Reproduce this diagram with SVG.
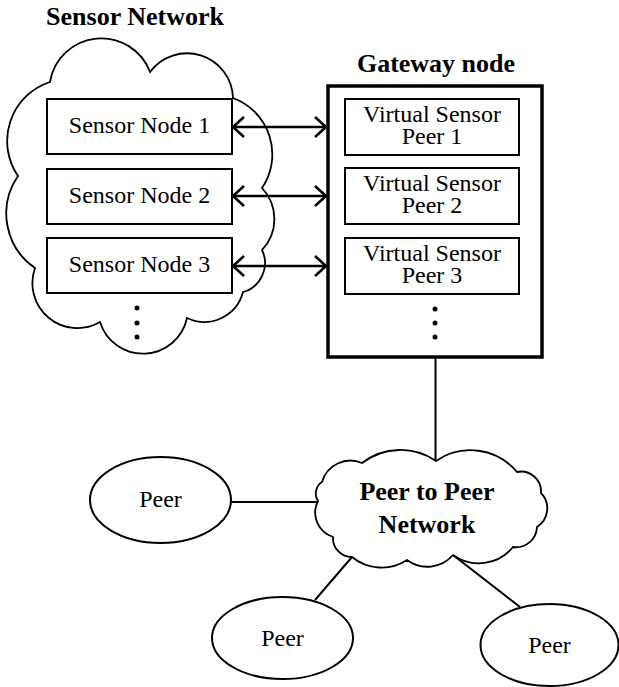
<svg xmlns="http://www.w3.org/2000/svg" width="619" height="687" viewBox="0 0 619 687">
<style>
text{font-family:'Liberation Serif','Times New Roman','DejaVu Serif',serif;fill:#000;text-anchor:middle}
.t{font-size:24px}
.b{font-size:26px;font-weight:bold}
.box{fill:#fff;stroke:#000;stroke-width:2}
.cloud{fill:#fff;stroke:#000;stroke-width:1.8}
.ell{fill:#fff;stroke:#000;stroke-width:2}
.ln{stroke:#000;stroke-width:2;fill:none}
.arr{stroke:#000;stroke-width:2.6;fill:none;marker-start:url(#ah);marker-end:url(#ah)}
</style>
<defs>
<marker id="ah" markerUnits="userSpaceOnUse" viewBox="0 0 14 22" markerWidth="14" markerHeight="22" refX="12" refY="11" orient="auto-start-reverse">
<path d="M1,1 L12,11 L1,21" fill="none" stroke="#000" stroke-width="2.6"/>
</marker>
</defs>
<g id="sensor-network">
<path class="cloud" d="M50,82 A52,52 0 0 1 150,72 A46,46 0 0 1 233,98 A60,60 0 0 1 262,188 A45,45 0 0 1 262,250 A30,30 0 0 1 243,292 A40,40 0 0 1 187,318 A45,45 0 0 1 100,322 A45,45 0 0 1 35,268 A66,66 0 0 1 18,176 A62,62 0 0 1 50,82 Z"/>
<text class="b" x="135" y="25" font-family="Liberation Serif, serif">Sensor Network</text>
<circle cx="137" cy="308" r="2.5"/>
<circle cx="137" cy="323" r="2.5"/>
<circle cx="137" cy="337" r="2.5"/>
</g>
<g id="sensor-node-1"><rect class="box" x="47" y="99" width="185" height="55"/><text class="t" x="139.5" y="133">Sensor Node 1</text></g>
<g id="sensor-node-2"><rect class="box" x="47" y="169" width="185" height="55"/><text class="t" x="139.5" y="203">Sensor Node 2</text></g>
<g id="sensor-node-3"><rect class="box" x="47" y="238" width="185" height="55"/><text class="t" x="139.5" y="272">Sensor Node 3</text></g>
<g id="gateway">
<text class="b" x="436" y="72">Gateway node</text>
<rect x="328" y="86" width="214" height="271" fill="#fff" stroke="#000" stroke-width="3.5"/>
<circle cx="435" cy="309" r="2.5"/>
<circle cx="435" cy="323" r="2.5"/>
<circle cx="435" cy="337" r="2.5"/>
</g>
<g id="vs-peer-1"><rect class="box" x="345" y="99" width="174" height="56"/><text class="t" x="432" y="122">Virtual Sensor</text><text class="t" x="432" y="144">Peer 1</text></g>
<g id="vs-peer-2"><rect class="box" x="345" y="168" width="174" height="56"/><text class="t" x="432" y="191">Virtual Sensor</text><text class="t" x="432" y="213">Peer 2</text></g>
<g id="vs-peer-3"><rect class="box" x="345" y="238" width="174" height="56"/><text class="t" x="432" y="261">Virtual Sensor</text><text class="t" x="432" y="283">Peer 3</text></g>
<g id="connectors">
<line class="arr" x1="233" y1="127" x2="326" y2="127"/>
<line class="arr" x1="233" y1="196" x2="326" y2="196"/>
<line class="arr" x1="233" y1="266" x2="326" y2="266"/>
<line class="ln" x1="435.5" y1="358" x2="435.5" y2="461"/>
<line class="ln" x1="231" y1="502" x2="318" y2="502"/>
<line class="ln" x1="352" y1="557" x2="315" y2="600"/>
<line class="ln" x1="453" y1="555" x2="520" y2="607"/>
</g>
<g id="p2p-network">
<path class="cloud" d="M436,461 A60.5,60.5 0 0 1 517,472 A20,20 0 0 1 541,493 A22,22 0 0 1 537,527 A21,21 0 0 1 513,547 A44,44 0 0 1 453,555 A34,34 0 0 1 407,560 A46.5,46.5 0 0 1 352,557 A19,19 0 0 1 333,537 A25.6,25.6 0 0 1 318,501 A13.8,13.8 0 0 1 322,482 A29.5,29.5 0 0 1 362,463 A63,63 0 0 1 436,461 Z"/>
<text class="b" x="427" y="500">Peer to Peer</text>
<text class="b" x="427" y="533">Network</text>
</g>
<g id="peer-1"><ellipse class="ell" cx="160.5" cy="500" rx="70.5" ry="43"/><text class="t" x="160.5" y="507">Peer</text></g>
<g id="peer-2"><ellipse class="ell" cx="282.5" cy="638" rx="70.5" ry="41"/><text class="t" x="282.5" y="646">Peer</text></g>
<g id="peer-3"><ellipse class="ell" cx="549.5" cy="645" rx="69" ry="41"/><text class="t" x="549.5" y="653">Peer</text></g>
</svg>
